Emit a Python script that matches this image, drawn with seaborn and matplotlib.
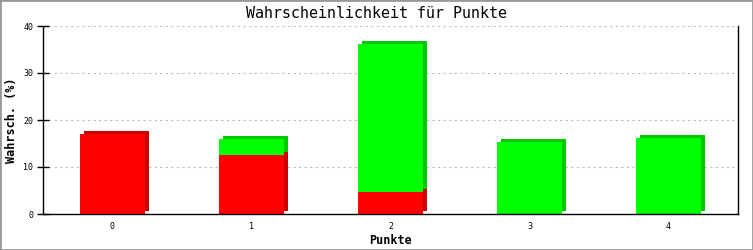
import matplotlib
matplotlib.use('Agg')
import matplotlib.pyplot as plt
import matplotlib.transforms as mtrans
from matplotlib.patches import Rectangle
import seaborn as sns
import pandas as pd

categories = ['0', '1', '2', '3', '4']
red_values = [17.0, 12.5, 4.7, 0.0, 0.0]
green_values = [0.0, 3.5, 31.5, 15.4, 16.2]
y_ticks = [0, 10, 20, 30, 40]
title = 'Wahrscheinlichkeit für Punkte'
x_label = 'Punkte'
y_label = 'Wahrsch. (%)'

sns.set_theme(style='white')
plt.rcParams['font.family'] = ['DejaVu Sans Mono', 'DejaVu Sans']

totals = [r + g for r, g in zip(red_values, green_values)]
df = pd.DataFrame({'Punkte': categories, 'red': red_values, 'total': totals})

fig = plt.figure(figsize=(7.53, 2.5), dpi=100)
ax = fig.add_axes([43 / 753, 36 / 250, 695 / 753, 188 / 250])

shadow = mtrans.ScaledTranslation(4 / 100, 3 / 100, fig.dpi_scale_trans)
w = 0.47
layers = [('total', '#00C800', True), ('red', '#CC0000', True),
          ('total', '#00FF00', False), ('red', '#FF0000', False)]
for col, color, is_shadow in layers:
    n_before = len(ax.patches)
    sns.barplot(data=df, x='Punkte', y=col, color=color, width=w, ax=ax,
                saturation=1, linewidth=0, edgecolor=color, errorbar=None)
    if is_shadow:
        for p in ax.patches[n_before:]:
            p.set_transform(ax.transData + shadow)

ax.set_xlim(-0.5, 4.5)
ax.set_ylim(0, 40)
ax.set_yticks(y_ticks)
ax.yaxis.grid(True, linestyle=(0, (2, 3)), color='#bbbbbb', lw=0.8)
ax.set_axisbelow(True)
for s in ['left', 'bottom', 'right']:
    ax.spines[s].set_visible(True)
    ax.spines[s].set_color('black')
    ax.spines[s].set_linewidth(1)
ax.spines['top'].set_visible(False)
ax.tick_params(axis='y', direction='inout', length=8, width=1, labelsize=6, pad=3, colors='black', left=True)
ax.tick_params(axis='x', length=0, labelsize=6, pad=6, colors='black')

ax.set_xlabel(x_label, fontsize=8.5, fontweight='bold', color='black')
ax.set_ylabel(y_label, fontsize=8.5, fontweight='bold', color='black')
ax.yaxis.set_label_coords(-(43 - 18) / 695, 0.5)
ax.xaxis.set_label_coords(0.5, -(234 - 214) / 188)
ax.xaxis.label.set_va('top')

fig.text(0.5, 1 - 13 / 250, title, ha='center', va='center', fontsize=10.8,
         fontweight='normal', color='black')

fig.patches.append(Rectangle((0, 0), 1, 1, transform=fig.transFigure, fill=False,
                             edgecolor='#999999', lw=2))

fig.savefig('out.png', dpi=100)
